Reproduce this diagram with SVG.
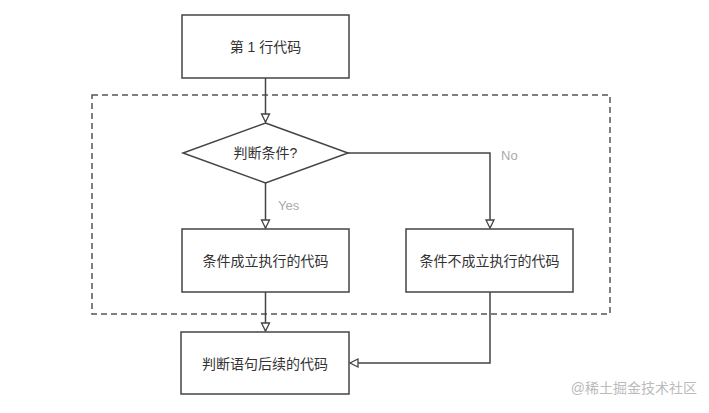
<svg xmlns="http://www.w3.org/2000/svg" width="709" height="413" viewBox="0 0 709 413">
<style>
.node rect,.node polygon{fill:#fff;stroke:#444;stroke-width:1.5}
.lbl{font-family:"Liberation Sans","Noto Sans CJK SC",sans-serif;font-size:14px;fill:#333;text-anchor:middle;dominant-baseline:central}
.edge{fill:none;stroke:#444;stroke-width:1.5}
.el{font-family:"Liberation Sans","Noto Sans CJK SC",sans-serif;font-size:13px;fill:#aaa}
</style>
<defs>
<marker id="arr" markerWidth="12" markerHeight="12" refX="9" refY="5" orient="auto" markerUnits="userSpaceOnUse">
<path d="M1,1 L9,5 L1,9 Z" fill="#fff" stroke="#444" stroke-width="1.3"/>
</marker>
</defs>
<rect width="709" height="413" fill="#fff"/>
<rect id="group-box" x="92" y="95" width="518" height="219" fill="none" stroke="#555" stroke-width="1.5" stroke-dasharray="6,4"/>
<g id="connectors">
<path class="edge" d="M265.5,78 V122" marker-end="url(#arr)"/>
<path class="edge" d="M265.5,183 V228" marker-end="url(#arr)"/>
<path class="edge" d="M348,153 H490 V228" marker-end="url(#arr)"/>
<path class="edge" d="M265.5,292 V331" marker-end="url(#arr)"/>
<path class="edge" d="M490,292 V363 H350" marker-end="url(#arr)"/>
<text class="el" x="278" y="210">Yes</text>
<text class="el" x="501" y="160">No</text>
</g>
<g id="n1" class="node"><rect x="182" y="15" width="167" height="63"/><text class="lbl" x="265.5" y="47">第 1 行代码</text></g>
<g id="n2" class="node"><polygon points="265.5,123 348,153 265.5,183 183,153"/><text class="lbl" x="265.5" y="153">判断条件?</text></g>
<g id="n3" class="node"><rect x="182" y="229" width="167" height="63"/><text class="lbl" x="265.5" y="261">条件成立执行的代码</text></g>
<g id="n4" class="node"><rect x="406" y="229" width="167" height="63"/><text class="lbl" x="489.5" y="261">条件不成立执行的代码</text></g>
<g id="n5" class="node"><rect x="181" y="332" width="168" height="62"/><text class="lbl" x="265" y="364">判断语句后续的代码</text></g>
<text x="697" y="393" font-family="'Liberation Sans','Noto Sans CJK SC',sans-serif" font-size="14" fill="#bbb" text-anchor="end">@稀土掘金技术社区</text>
</svg>
